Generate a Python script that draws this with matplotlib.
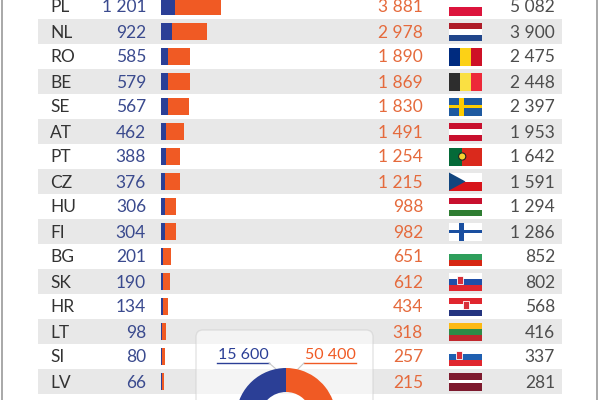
import matplotlib
matplotlib.use("Agg")
import matplotlib.pyplot as plt
import matplotlib.patches as mpatches
import numpy as np

# Data
codes = ["PL", "NL", "RO", "BE", "SE", "AT", "PT", "CZ",
         "HU", "FI", "BG", "SK", "HR", "LT", "SI", "LV"]
blue_vals = [1201, 922, 585, 579, 567, 462, 388, 376,
             306, 304, 201, 190, 134, 98, 80, 66]
orange_vals = [3881, 2978, 1890, 1869, 1830, 1491, 1254, 1215,
               988, 982, 651, 612, 434, 318, 257, 215]
totals = [5082, 3900, 2475, 2448, 2397, 1953, 1642, 1591,
          1294, 1286, 852, 802, 568, 416, 337, 281]
donut_labels = ["15 600", "50 400"]
donut_vals = [15600, 50400]

BLUE = "#2b3f96"
ORANGE = "#f05a24"
BLUE_TXT = "#3a4a8e"
ORANGE_TXT = "#e56a3c"
GRAY_TXT = "#4d4d4d"
BAND = "#e8e8e8"

plt.rcParams['font.family'] = ['Lato', 'DejaVu Sans']

# flag specs: orientation + stripes (weights)
FLAGS = {
    "PL": ("h", ["#ffffff", "#dc143c"], [1, 1]),
    "NL": ("h", ["#ae1c28", "#ffffff", "#21468b"], [1, 1, 1]),
    "RO": ("v", ["#002b7f", "#fcd116", "#ce1126"], [1, 1, 1]),
    "BE": ("v", ["#2d2d2d", "#fae042", "#ed2939"], [1, 1, 1]),
    "SE": ("h", ["#1f5aa0"], [1]),
    "AT": ("h", ["#c8102e", "#ffffff", "#c8102e"], [1, 1, 1]),
    "PT": ("v", ["#046a38", "#da291c"], [2, 3]),
    "CZ": ("h", ["#ffffff", "#d7141a"], [1, 1]),
    "HU": ("h", ["#c8102e", "#ffffff", "#2e7d32"], [1, 1, 1]),
    "FI": ("h", ["#ffffff"], [1]),
    "BG": ("h", ["#ffffff", "#2e9e5b", "#d62612"], [1, 1, 1]),
    "SK": ("h", ["#ffffff", "#1f4fa8", "#e0262e"], [1, 1, 1]),
    "HR": ("h", ["#e0262e", "#ffffff", "#24347f"], [1, 1, 1]),
    "LT": ("h", ["#fdb913", "#2e8b47", "#c1272d"], [1, 1, 1]),
    "SI": ("h", ["#ffffff", "#1f5fb0", "#e0262e"], [1, 1, 1]),
    "LV": ("h", ["#7d1a2e", "#ffffff", "#7d1a2e"], [2, 1, 2]),
}


def draw_flag(ax, code, x0, yc, w, h):
    orient, cols, weights = FLAGS[code]
    tot = sum(weights)
    pos = 0
    for c, wt in zip(cols, weights):
        if orient == "h":
            r = mpatches.Rectangle((x0, yc - h / 2 + h * pos / tot), w, h * wt / tot,
                                   facecolor=c, edgecolor="none", zorder=3)
        else:
            r = mpatches.Rectangle((x0 + w * pos / tot, yc - h / 2), w * wt / tot, h,
                                   facecolor=c, edgecolor="none", zorder=3)
        ax.add_patch(r)
        pos += wt
    if code in ("SE", "FI"):
        cc = "#fecc00" if code == "SE" else "#1a4fa0"
        ax.add_patch(mpatches.Rectangle((x0 + w * 0.3, yc - h / 2), w * 0.14, h,
                                        facecolor=cc, edgecolor="none", zorder=4))
        ax.add_patch(mpatches.Rectangle((x0, yc - h * 0.1), w, h * 0.2,
                                        facecolor=cc, edgecolor="none", zorder=4))
    if code == "CZ":
        ax.add_patch(mpatches.Polygon([(x0, yc - h / 2), (x0 + w * 0.5, yc), (x0, yc + h / 2)],
                                      facecolor="#11457e", edgecolor="none", zorder=4))
    if code == "PT":
        ax.add_patch(mpatches.Circle((x0 + w * 0.4, yc), h * 0.2,
                                     facecolor="#f5d130", edgecolor="#222222", lw=0.8, zorder=4))
    if code in ("SK", "SI", "HR"):
        ex = {"SK": 0.33, "SI": 0.3, "HR": 0.5}[code]
        ax.add_patch(mpatches.Rectangle((x0 + w * ex - 3, yc - h * 0.32), 6, h * 0.45,
                                        facecolor="#d8303a", edgecolor="#ffffff", lw=0.6, zorder=4))


fig = plt.figure(figsize=(6, 4), dpi=100)
ax = fig.add_axes([0, 0, 1, 1])
ax.set_xlim(0, 600)
ax.set_ylim(400, 0)
ax.axis("off")

pitch = 25
y0 = 7.5
scale = 60 / 5082
bar_x = 161

rows = np.arange(len(codes))
ys = y0 + rows * pitch

# alternating bands
for i, y in enumerate(ys):
    if i % 2 == 1:
        ax.add_patch(mpatches.Rectangle((38, y - pitch / 2 - 1), 524, pitch,
                                        facecolor=BAND, edgecolor="none", zorder=0))

# stacked bars
bv = np.array(blue_vals) * scale
ov = np.array(orange_vals) * scale
ax.barh(ys - 1, bv, left=bar_x, height=16.5, color=BLUE, zorder=2)
ax.barh(ys - 1, ov, left=bar_x + bv, height=16.5, color=ORANGE, zorder=2)

fmt = lambda v: f"{v:,}".replace(",", " ")

for i, y in enumerate(ys):
    ax.text(50, y, codes[i], ha="left", va="center", fontsize=12.5, color="#333333")
    ax.text(146, y, fmt(blue_vals[i]), ha="right", va="center", fontsize=12.5, color=BLUE_TXT)
    ax.text(423, y, fmt(orange_vals[i]), ha="right", va="center", fontsize=12.5, color=ORANGE_TXT)
    ax.text(555, y, fmt(totals[i]), ha="right", va="center", fontsize=12.5, color=GRAY_TXT)
    draw_flag(ax, codes[i], 449, y - 1, 33, 18)

# side borders
ax.plot([2, 2], [0, 400], color="#9a9a9a", lw=1.2, zorder=1)
ax.plot([597, 597], [0, 400], color="#9a9a9a", lw=1.2, zorder=1)

# donut box
box = mpatches.FancyBboxPatch((196, 330), 177, 90,
                              boxstyle="round,pad=0,rounding_size=7",
                              facecolor="#ffffff", alpha=0.55, edgecolor="#cfcfcf",
                              lw=1.0, zorder=5)
ax.add_patch(box)

# donut labels with underline
lab_x = [243, 330]
lab_cols = [BLUE, ORANGE]
for lx, lab, col in zip(lab_x, donut_labels, lab_cols):
    ax.text(lx, 355, lab, ha="center", va="center", fontsize=11.5, color=col, zorder=7)
    ax.plot([lx - 26, lx + 26], [363, 363], color=col, lw=1.0, zorder=7)
ax.plot([269, 276], [363, 369], color="#c8c8c8", lw=0.8, zorder=7)
ax.plot([304, 298], [363, 369], color="#c8c8c8", lw=0.8, zorder=7)

# donut
dax = fig.add_axes([236 / 600, -68 / 400, 100 / 600, 100 / 400])
dax.pie(donut_vals, colors=[BLUE, ORANGE], startangle=90, counterclock=True,
        radius=1.0, wedgeprops=dict(width=0.48, edgecolor="none"))
dax.set_xlim(-1, 1)
dax.set_ylim(-1, 1)
dax.set_aspect("equal")
dax.axis("off")

fig.savefig("out.png", dpi=100)
